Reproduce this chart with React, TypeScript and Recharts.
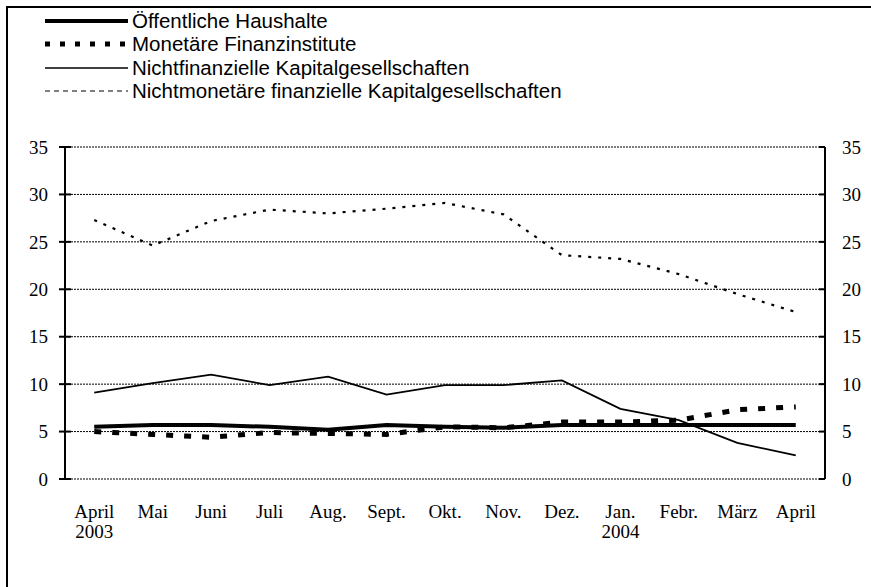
import { LineChart, Line, XAxis, YAxis, CartesianGrid, Legend } from "recharts"

const months = ["April", "Mai", "Juni", "Juli", "Aug.", "Sept.", "Okt.", "Nov.", "Dez.", "Jan.", "Febr.", "März", "April"]
const years = ["2003", "", "", "", "", "", "", "", "", "2004", "", "", ""]

const oeffentlicheHaushalte = [5.5, 5.7, 5.7, 5.5, 5.2, 5.7, 5.5, 5.4, 5.7, 5.7, 5.7, 5.7, 5.7]
const monetaereFinanzinstitute = [5.0, 4.7, 4.4, 4.9, 4.8, 4.7, 5.5, 5.4, 6.0, 6.0, 6.2, 7.3, 7.6]
const nichtfinanzielle = [9.1, 10.1, 11.0, 9.9, 10.8, 8.9, 9.9, 9.9, 10.4, 7.4, 6.2, 3.8, 2.5]
const nichtmonetaere = [27.3, 24.6, 27.2, 28.4, 28.0, 28.5, 29.1, 27.9, 23.6, 23.2, 21.6, 19.5, 17.6]

const yTicks = [0, 5, 10, 15, 20, 25, 30, 35]

// line styles, chart + legend sample
const series = [
  { key: "oh", name: "Öffentliche Haushalte", width: 4, dash: undefined, legendWidth: 4, legendDash: undefined },
  { key: "mfi", name: "Monetäre Finanzinstitute", width: 5, dash: "7 11", legendWidth: 5, legendDash: "5 10" },
  { key: "nfk", name: "Nichtfinanzielle Kapitalgesellschaften", width: 1.8, dash: undefined, legendWidth: 1.6, legendDash: undefined },
  { key: "nmk", name: "Nichtmonetäre finanzielle Kapitalgesellschaften", width: 2.2, dash: "3 7", legendWidth: 1, legendDash: "5 4" },
]

const data = months.map((m, i) => ({
  i,
  month: m,
  oh: oeffentlicheHaushalte[i],
  mfi: monetaereFinanzinstitute[i],
  nfk: nichtfinanzielle[i],
  nmk: nichtmonetaere[i],
}))

const boundaryTicks = Array.from({ length: months.length + 1 }, (_, i) => i)

const serif = "'Liberation Serif', 'Times New Roman', serif"
const sans = "'Liberation Sans', Arial, sans-serif"

// plot box edges (from chart margins + axis widths)
const PLOT_LEFT = 65
const PLOT_RIGHT = 825

function MonthTick(props: any) {
  const { x, y, payload } = props
  const idx = payload.index
  return (
    <text x={x} y={y} textAnchor="middle" style={{ fontFamily: serif, fontSize: 19 }} fill="#000">
      <tspan x={x} dy={39}>{months[idx]}</tspan>
      {years[idx] ? <tspan x={x} dy={20}>{years[idx]}</tspan> : null}
    </text>
  )
}

// value labels for both sides + inward halves of the crossing ticks
function ValueTick(props: any) {
  const { y, payload } = props
  const txt = { fontFamily: serif, fontSize: 19 }
  return (
    <g>
      <line x1={PLOT_LEFT} x2={PLOT_LEFT + 6} y1={y} y2={y} stroke="#000" strokeWidth={2} />
      <line x1={PLOT_RIGHT} x2={PLOT_RIGHT - 6} y1={y} y2={y} stroke="#000" strokeWidth={2} />
      <text x={PLOT_LEFT - 17} y={y} dy="0.35em" textAnchor="end" style={txt} fill="#000">
        {payload.value}
      </text>
      <text x={PLOT_RIGHT + 17} y={y} dy="0.35em" textAnchor="start" style={txt} fill="#000">
        {payload.value}
      </text>
    </g>
  )
}

function LegendBox() {
  return (
    <div style={{ fontFamily: sans, fontSize: 20.5, color: "#000", lineHeight: 1 }}>
      {series.map((s) => (
        <div key={s.key} style={{ display: "flex", alignItems: "center", height: 23.5 }}>
          <svg width={84} height={10} style={{ display: "block" }}>
            <line x1={0} x2={83} y1={5} y2={5} stroke="#000" strokeWidth={s.legendWidth} strokeDasharray={s.legendDash} />
          </svg>
          <span style={{ whiteSpace: "nowrap", marginLeft: 3 }}>{s.name}</span>
        </div>
      ))}
    </div>
  )
}

export default function App() {
  return (
    <div style={{ position: "absolute", left: 0, top: 0, width: 871, height: 587, background: "#fff", overflow: "hidden" }}>
      {/* outer frame, only left and top edges fall inside the picture */}
      <svg width={871} height={587} style={{ position: "absolute", left: 0, top: 0, display: "block" }}>
        <path d="M7 587 V7 H871" fill="none" stroke="#000" strokeWidth={2} />
      </svg>
      <div style={{ position: "absolute", left: 0, top: 0 }}>
        <LineChart width={871} height={587} data={data} margin={{ top: 147, right: 6, bottom: 48, left: 25 }}>
          <CartesianGrid xAxisId="cat" yAxisId="left" vertical={false} stroke="#000" strokeDasharray="2 1" strokeWidth={1} />
          <XAxis
            xAxisId="ticks"
            type="number"
            dataKey="i"
            domain={[0, months.length]}
            allowDataOverflow
            ticks={boundaryTicks}
            tick={() => <g />}
            tickSize={6}
            height={0}
            axisLine={{ stroke: "#000", strokeWidth: 2 }}
            tickLine={{ stroke: "#000", strokeWidth: 2 }}
          />
          <XAxis
            xAxisId="cat"
            dataKey="month"
            height={60}
            padding={{ left: 29.23, right: 29.23 }}
            axisLine={false}
            tickLine={false}
            tickSize={0}
            tickMargin={0}
            interval={0}
            tick={(p: any) => <MonthTick {...p} />}
          />
          <YAxis
            yAxisId="left"
            domain={[0, 35]}
            ticks={yTicks}
            width={40}
            tickSize={6}
            tickMargin={11}
            axisLine={{ stroke: "#000", strokeWidth: 2 }}
            tickLine={{ stroke: "#000", strokeWidth: 2 }}
            tick={(p: any) => <ValueTick {...p} />}
          />
          <YAxis
            yAxisId="right"
            orientation="right"
            domain={[0, 35]}
            ticks={yTicks}
            width={40}
            tickSize={6}
            axisLine={{ stroke: "#000", strokeWidth: 2 }}
            tickLine={{ stroke: "#000", strokeWidth: 2 }}
            tick={() => <g />}
          />
          <Legend
            layout="vertical"
            align="center"
            verticalAlign="middle"
            wrapperStyle={{ left: 45, top: 9, width: "auto" }}
            content={() => <LegendBox />}
          />
          {series.map((s) => (
            <Line
              key={s.key}
              xAxisId="cat"
              yAxisId="left"
              type="linear"
              dataKey={s.key}
              name={s.name}
              stroke="#000"
              strokeWidth={s.width}
              strokeDasharray={s.dash}
              dot={false}
              activeDot={false}
              isAnimationActive={false}
            />
          ))}
        </LineChart>
      </div>
    </div>
  )
}
